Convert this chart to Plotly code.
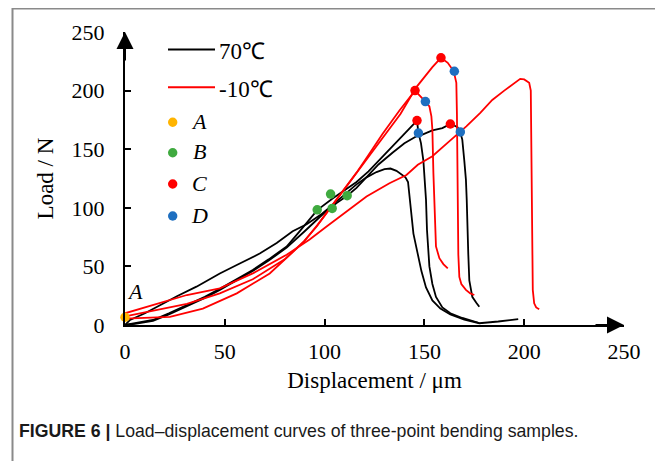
import plotly.graph_objects as go

# ---------------- data ----------------
# 70 ℃ samples
b1_x = [0, 2.5, 10, 17.5, 26, 35.8, 47.5, 57, 67.5, 76, 84, 91, 98, 105, 111, 116, 121, 126, 130, 133,
        136, 138.5, 140.5, 141.8, 142.5, 143.3, 144.5, 146.5, 148.5, 150.8, 154, 158, 163, 170, 177.5, 187, 197]
b1_y = [0, 4.3, 10, 17, 24.5, 32.7, 44, 52, 61, 70, 80, 86, 94, 104, 113, 120, 126, 130.5, 133, 133.5,
        131.5, 128.5, 126, 122, 110, 95, 78, 62, 46, 32, 21, 14, 9, 4.5, 1.5, 3, 5]

b2_x = [0, 5, 14, 22, 31, 40, 47.5, 56, 64, 72, 81, 88, 96.3, 104, 110, 116, 122, 129, 137.5, 143, 146.3,
        147, 148.3, 149.5, 150.3, 150.8, 151.3, 152, 152.5, 154, 155.8, 159, 163, 169, 177.5]
b2_y = [0, 1.5, 4.3, 10, 17, 24, 31, 39, 47, 56, 67, 81, 98, 108, 115, 122, 131, 143.6, 158, 168, 174.4,
        164, 155, 140, 124, 107, 81, 62, 50, 35, 24, 15, 10, 6, 1.7]

b3_x = [0, 5, 14, 22, 31, 40, 47.5, 56, 64, 72, 81, 90, 100, 106, 111.3, 116, 121, 127, 134, 140, 146,
        149, 154, 159, 163, 166.5, 168, 169, 170, 170.8, 171.2, 171.5, 172, 172.5, 174, 176, 177.5]
b3_y = [0, 1, 3.5, 9, 16, 23, 30, 38, 46, 55, 66, 80, 96, 104, 110.3, 117, 126, 137, 147, 155, 161,
        162.5, 166, 168, 171.5, 169, 164.5, 158, 140, 124, 107, 81, 60, 38, 24, 19, 15.6]

# -10 ℃ samples
r1_x = [0, 22.5, 39, 56, 72.5, 89, 96, 103, 110, 117, 124, 131, 138, 146, 154, 158.3, 161.7, 164.7,
        166, 166.3, 166.7, 167, 167.5, 168.5, 170.8, 173, 175]
r1_y = [5.4, 7, 14, 27, 44, 70, 84, 100, 116, 132, 148, 164, 180, 203, 220, 228, 223.7, 216.5,
        206.6, 180, 107, 60, 41, 35, 30, 27, 25.6]

r2_x = [0, 14, 31, 47.5, 64, 80, 90, 96.3, 103, 110, 116, 122, 129, 137.5, 145.3, 150.5, 152.5, 153.5,
        154, 154.5, 155, 155.3, 155.8, 157.5, 159.5, 161.7]
r2_y = [7.4, 12, 18, 27, 39, 56, 72, 85, 100, 116, 130, 145, 163, 183, 200, 190.6, 186.6, 178,
        166.7, 130, 107, 81, 67, 57, 52, 48.4]

r3_x = [0, 14, 31, 47.5, 64, 81, 92.5, 101, 112.5, 121, 132.5, 141, 146.7, 154, 162, 171, 178, 184,
        190, 196, 198, 200, 202.5, 203.3, 203.7, 204, 204.3, 205, 206, 207.5]
r3_y = [10, 17, 25.6, 31.3, 44, 60, 73, 84, 99, 109.7, 121, 128, 136.7, 144, 156, 169.5, 181, 192,
        200, 208, 210, 209.5, 206.6, 200, 150, 80, 30, 18.5, 15, 13.4]

# characteristic points
a_x, a_y = [0], [6.6]
b_x = [96.3, 103.8, 103, 111.3]
b_y = [98.3, 99.5, 111.7, 110.3]
c_x = [146.3, 163, 145.3, 158.3]
c_y = [174.4, 171.5, 200, 228]
d_x = [147, 168, 150.5, 165]
d_y = [163.8, 164.7, 190.6, 216.5]

x_ticks = [0, 50, 100, 150, 200, 250]
y_ticks = [0, 50, 100, 150, 200, 250]

# ---------------- figure ----------------
OFF = 8                      # page body margin of the html page
W, H = 663 - OFF, 461 - OFF
L, R, T, B = 125 - OFF, 39, 32 - OFF, 136
PW, PH = W - L - R, H - T - B


def px(xp):
    """reference-picture pixel x -> paper coordinate"""
    return (xp - OFF - L) / PW


def py(yp):
    """reference-picture pixel y -> paper coordinate"""
    return (H - B - (yp - OFF)) / PH


SERIF = "Liberation Serif, Times New Roman, serif"
BLACK = "#000000"
RED = "#FF0000"
YEL = "#FFB400"
GRN = "#3FAA3F"
REDDOT = "#FF0000"
BLU = "#1E6FC0"

fig = go.Figure()
for xs, ys, col in [(b1_x, b1_y, BLACK), (b2_x, b2_y, BLACK), (b3_x, b3_y, BLACK),
                    (r1_x, r1_y, RED), (r2_x, r2_y, RED), (r3_x, r3_y, RED)]:
    fig.add_trace(go.Scatter(x=xs, y=ys, mode="lines", line=dict(color=col, width=1.8),
                             showlegend=False, hoverinfo="skip", cliponaxis=False))

for xs, ys, col in [(a_x, a_y, YEL), (b_x, b_y, GRN), (c_x, c_y, REDDOT), (d_x, d_y, BLU)]:
    fig.add_trace(go.Scatter(x=xs, y=ys, mode="markers", marker=dict(color=col, size=9.5),
                             showlegend=False, cliponaxis=False))

axis_common = dict(range=[0, 250], tickvals=x_ticks, showline=True, linecolor="black", linewidth=2,
                   ticks="inside", ticklen=6, tickwidth=2, tickcolor="black", showgrid=False,
                   zeroline=False, tickfont=dict(family=SERIF, size=22, color="black"))

fig.update_layout(
    width=W, height=H,
    margin=dict(l=L, r=R, t=T, b=B),
    paper_bgcolor="white", plot_bgcolor="white",
    xaxis=dict(**axis_common,
               title=dict(text="Displacement / μm", font=dict(family=SERIF, size=23, color="black"),
                          standoff=8),
               ticklabelstandoff=6),
    yaxis=dict(**axis_common,
               title=dict(text="Load / N", font=dict(family=SERIF, size=23, color="black"),
                          standoff=12),
               ticklabelstandoff=14),
)

# axis arrowheads
fig.add_annotation(x=250, y=0, xref="x", yref="y", ax=-30, ay=0, axref="pixel", ayref="pixel",
                   text="", showarrow=True, arrowhead=2, arrowsize=1.7, arrowwidth=2, arrowcolor="black")
fig.add_annotation(x=0, y=250, xref="x", yref="y", ax=0, ay=30, axref="pixel", ayref="pixel",
                   text="", showarrow=True, arrowhead=2, arrowsize=1.7, arrowwidth=2, arrowcolor="black")

# "A" label at origin
fig.add_annotation(x=5, y=28.5, xref="x", yref="y", text="<i>A</i>", showarrow=False,
                   xanchor="center", yanchor="middle",
                   font=dict(family=SERIF, size=22, color="black"))

# legend (drawn as layout decorations)
for ly, col, lab in [(49.5, BLACK, "70℃"), (87.3, RED, "-10℃")]:
    fig.add_shape(type="line", xref="paper", yref="paper", x0=px(168), x1=px(215), y0=py(ly), y1=py(ly),
                  line=dict(color=col, width=2))
    fig.add_annotation(xref="paper", yref="paper", x=px(217), y=py(ly + 2), xanchor="left",
                       yanchor="middle", text=lab, showarrow=False,
                       font=dict(family=SERIF, size=23, color="black"))
for ly, col, lab in [(122.3, YEL, "A"), (152.7, GRN, "B"), (184, REDDOT, "C"), (216, BLU, "D")]:
    fig.add_shape(type="circle", xref="paper", yref="paper", xsizemode="pixel", ysizemode="pixel",
                  xanchor=px(172.7), yanchor=py(ly), x0=-4.7, x1=4.7, y0=-4.7, y1=4.7,
                  fillcolor=col, line=dict(width=0))
    fig.add_annotation(xref="paper", yref="paper", x=px(199), y=py(ly - 1), xanchor="center",
                       yanchor="middle", text="<i>" + lab + "</i>", showarrow=False,
                       font=dict(family=SERIF, size=22, color="black"))

# frame
fig.add_shape(type="rect", xref="paper", yref="paper", x0=px(12.5), x1=px(661.5), y0=py(480), y1=py(8.5),
              line=dict(color="#8a8a8a", width=2), layer="below")

# caption
fig.add_annotation(xref="paper", yref="paper", x=px(17), y=py(431), xanchor="left", yanchor="middle",
                   text="<b>FIGURE 6 |</b> Load–displacement curves of three-point bending samples.",
                   showarrow=False, font=dict(family="Liberation Sans, Arial, sans-serif", size=17.7,
                                              color="#1a1a1a"))

fig.write_html("out.html")
